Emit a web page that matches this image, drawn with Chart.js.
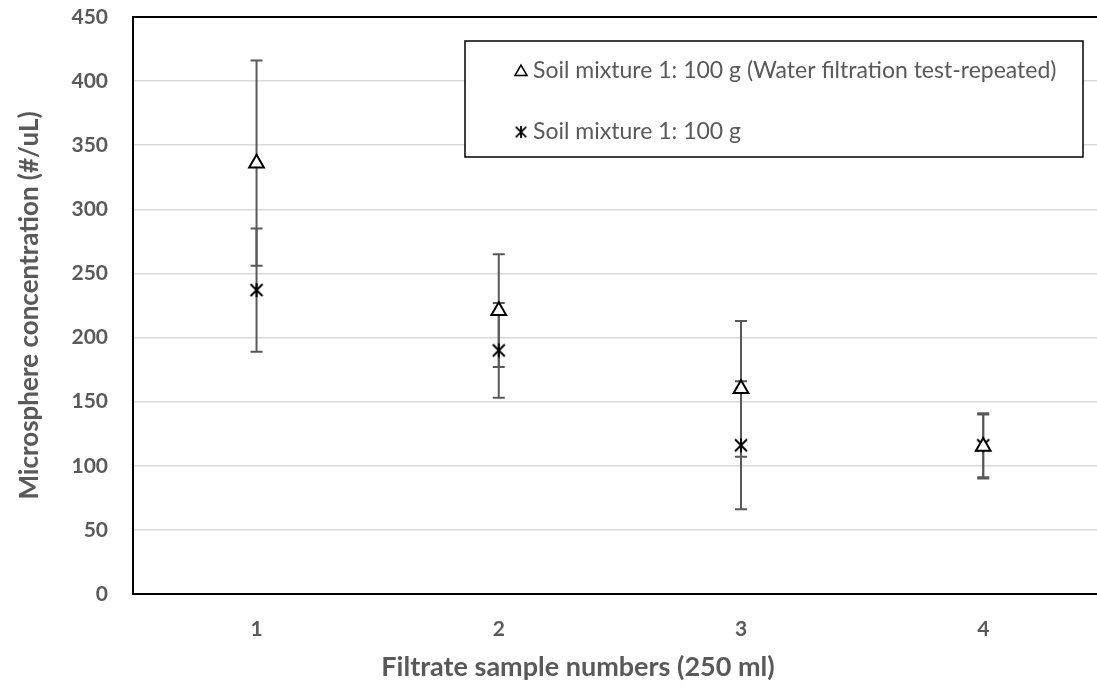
<!DOCTYPE html>
<html>
<head>
<meta charset="utf-8">
<script src="https://cdn.jsdelivr.net/npm/chart.js@4"></script>
<style>
  html, body { margin: 0; padding: 0; background: #fff; overflow: hidden; }
  /* a little wider than the window: the plot runs off the right edge like the reference */
  #wrap { width: 1110px; height: 689px; }
  canvas { display: block; }
</style>
</head>
<body>
<div id="wrap"><canvas id="myChart"></canvas></div>
<script>
// sample numbers (x) and tick labels
const samples = [1, 2, 3, 4]
const xTicks = [1, 2, 3, 4]
const yTicks = [0, 50, 100, 150, 200, 250, 300, 350, 400, 450]

// series
const repeatedLabel = "Soil mixture 1: 100 g (Water filtration test-repeated)"
const repeatedValues = [336, 221, 160, 115]
const repeatedErrors = [80, 44, 53, 25]

const baseLabel = "Soil mixture 1: 100 g"
const baseValues = [237, 190, 116, 116]
const baseErrors = [48, 37, 50, 25]

const xTitle = "Filtrate sample numbers (250 ml)"
const yTitle = "Microsphere concentration (#/uL)"

const grey = "#595959"
const font = "Lato, 'Open Sans', sans-serif"

// excel-like "star" marker: an X with a vertical stroke
function starMarker() {
  const c = document.createElement("canvas")
  c.width = 16
  c.height = 16
  const g = c.getContext("2d")
  g.strokeStyle = "#000"
  g.lineWidth = 2
  g.beginPath()
  g.moveTo(2, 2); g.lineTo(14, 14)
  g.moveTo(14, 2); g.lineTo(2, 14)
  g.moveTo(8, 1); g.lineTo(8, 15)
  g.stroke()
  return c
}
const star = starMarker()

// drop the automatic label padding around the scales
function noPad(axis) {
  axis.paddingLeft = 0
  axis.paddingRight = 0
  axis.paddingTop = 0
  axis.paddingBottom = 0
}

const errorBars = {
  id: "errorBars",
  beforeDatasetsDraw(chart) {
    const { ctx, scales: { x, y } } = chart
    ctx.save()
    ctx.strokeStyle = grey
    ctx.lineWidth = 2
    chart.data.datasets.forEach(ds => {
      ds.data.forEach((p, i) => {
        const e = ds.errors[i]
        const px = x.getPixelForValue(p.x)
        const top = y.getPixelForValue(p.y + e)
        const bot = y.getPixelForValue(p.y - e)
        ctx.beginPath()
        ctx.moveTo(px, top); ctx.lineTo(px, bot)
        ctx.moveTo(px - 6, top); ctx.lineTo(px + 6, top)
        ctx.moveTo(px - 6, bot); ctx.lineTo(px + 6, bot)
        ctx.stroke()
      })
    })
    ctx.restore()
  }
}

const frameAndLegend = {
  id: "frameAndLegend",
  afterDraw(chart) {
    const { ctx, chartArea } = chart
    ctx.save()
    // top border of the plot area
    ctx.strokeStyle = "#000"
    ctx.lineWidth = 2
    ctx.beginPath()
    ctx.moveTo(chartArea.left - 1, chartArea.top)
    ctx.lineTo(chartArea.right + 2, chartArea.top)
    ctx.stroke()

    // x axis title, excel puts it a bit left of the cropped plot's centre
    ctx.font = "bold 27px " + font
    ctx.fillStyle = grey
    ctx.textAlign = "center"
    ctx.textBaseline = "middle"
    ctx.fillText(xTitle, 578, 667)

    // legend box
    const bx = 465, by = 41, bw = 618, bh = 116
    ctx.fillStyle = "#fff"
    ctx.fillRect(bx, by, bw, bh)
    ctx.lineWidth = 1.5
    ctx.strokeRect(bx, by, bw, bh)

    ctx.font = "23px " + font
    ctx.textAlign = "left"
    const rows = [71, 132]
    chart.data.datasets.forEach((ds, i) => {
      const cy = rows[i]
      if (ds.pointStyle === "triangle") {
        ctx.fillStyle = "#fff"
        ctx.strokeStyle = "#000"
        ctx.lineWidth = 1.5
        Chart.helpers.drawPoint(ctx, { pointStyle: "triangle", radius: 7, borderWidth: 1.5, rotation: 0 }, 521, cy + 1)
      } else {
        ctx.drawImage(star, 514, cy - 7, 14, 14)
      }
      ctx.fillStyle = grey
      ctx.fillText(ds.label, 533, cy)
    })
    ctx.restore()
  }
}

new Chart(document.getElementById("myChart").getContext("2d"), {
  type: "scatter",
  data: {
    datasets: [
      {
        label: repeatedLabel,
        data: samples.map((s, i) => ({ x: s, y: repeatedValues[i] })),
        errors: repeatedErrors,
        pointStyle: "triangle",
        pointRadius: 8.5,
        pointHoverRadius: 8.5,
        pointBackgroundColor: "#fff",
        pointBorderColor: "#000",
        pointBorderWidth: 2
      },
      {
        label: baseLabel,
        data: samples.map((s, i) => ({ x: s, y: baseValues[i] })),
        errors: baseErrors,
        pointStyle: star,
        pointRadius: 8,
        pointHoverRadius: 8,
        pointBorderColor: "#000"
      }
    ]
  },
  options: {
    responsive: true,
    maintainAspectRatio: false,
    animation: false,
    layout: { padding: { top: 17, right: 0, left: 0, bottom: 0 } },
    plugins: {
      legend: { display: false },
      tooltip: { enabled: false }
    },
    scales: {
      x: {
        type: "linear",
        min: 0.49,
        max: 4.48,
        afterBuildTicks: axis => { axis.ticks = xTicks.map(v => ({ value: v })) },
        afterFit: axis => { axis.height = 95; noPad(axis) },
        grid: { display: false, drawTicks: false },
        border: { color: "#000", width: 2 },
        ticks: { color: grey, padding: 23, font: { family: font, size: 21, weight: "bold" } },
        title: { display: false }
      },
      y: {
        min: 0,
        max: 450,
        afterBuildTicks: axis => { axis.ticks = yTicks.map(v => ({ value: v })) },
        afterFit: axis => { axis.width = 133; noPad(axis) },
        grid: { color: "#d9d9d9", lineWidth: 1.5, drawTicks: false },
        border: { color: "#000", width: 2 },
        ticks: { color: grey, padding: 25, font: { family: font, size: 21, weight: "bold" } },
        title: {
          display: true,
          text: yTitle,
          color: grey,
          font: { family: font, size: 26, weight: "bold" },
          padding: { top: 14, bottom: 0 }
        }
      }
    }
  },
  plugins: [errorBars, frameAndLegend]
})
</script>
</body>
</html>
